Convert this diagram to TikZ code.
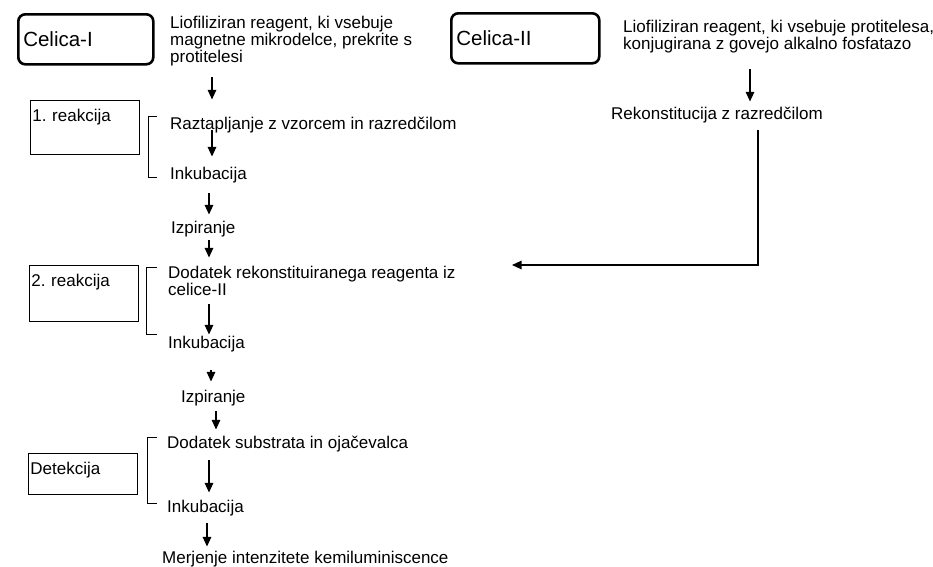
\documentclass[tikz,border=0pt]{standalone}
\usepackage{fontspec}
\setmainfont{Liberation Sans}
\usetikzlibrary{arrows.meta}

\begin{document}
\begin{tikzpicture}[
        x=1pt, y=-1pt,
        every node/.style={font=\fontsize{17}{17}\selectfont},
        cell/.style={draw, line width=2.6pt, rounded corners=7pt, anchor=north west, inner xsep=5pt, minimum height=50pt, align=left, font=\fontsize{20.5}{22}\selectfont},
        stage/.style={draw, line width=0.8pt, anchor=north west, inner xsep=2pt, inner ysep=9pt, text width=105pt, text height=12pt, align=left},
        txt/.style={anchor=base west, inner sep=0pt, align=left},
        arr/.style={-{Triangle[length=9.5pt,width=8.5pt]}, line width=1.1pt},
        brk/.style={line width=0.9pt}
      ]
      \useasboundingbox (0,0) rectangle (933,566);

      % Celica-I (multi-line texts sit on their last baseline)
      \node[cell, text width=125pt] (cel1) at (17,13) {Celica-I};
      \node[txt] (lio1) at (170,62) {Liofiliziran reagent, ki vsebuje\\magnetne mikrodelce, prekrite s\\protitelesi};

      % 1. reakcija
      \node[stage, text depth=24pt] (st1) at (30,100) {1.\ reakcija};
      \node[txt] (razt) at (170,129) {Raztapljanje z vzorcem in razred\v{c}ilom};
      \node[txt] (ink1) at (170,179) {Inkubacija};
      \node[txt] (izp1) at (171,233) {Izpiranje};
      \draw[brk] (157,116) -- (148,116) -- (148,177) -- (157,177);

      % 2. reakcija
      \node[stage, text depth=26pt] (st2) at (29,265) {2.\ reakcija};
      \node[txt] (dod1) at (168,295) {Dodatek rekonstituiranega reagenta iz\\celice-II};
      \node[txt] (ink2) at (168,348) {Inkubacija};
      \node[txt] (izp2) at (181,402) {Izpiranje};
      \draw[brk] (157,267) -- (146,267) -- (146,334) -- (157,334);

      % Detekcija
      \node[stage, text depth=11pt] (st3) at (28,453) {Detekcija};
      \node[txt] (dod2) at (167,448) {Dodatek substrata in oja\v{c}evalca};
      \node[txt] (ink3) at (167,512) {Inkubacija};
      \node[txt] (mer) at (162,563) {Merjenje intenzitete kemiluminiscence};
      \draw[brk] (157,437) -- (147,437) -- (147,503) -- (157,503);

      % Celica-II
      \node[cell, text width=138pt] (cel2) at (450,12) {Celica-II};
      \node[txt] (lio2) at (623,49) {Liofiliziran reagent, ki vsebuje protitelesa,\\konjugirana z govejo alkalno fosfatazo};
      \node[txt] (rek) at (611,119) {Rekonstitucija z razred\v{c}ilom};
      \coordinate (feed) at (512,265);

      % Arrows
      \draw[arr, shorten <=11.5pt, shorten >=17pt] ([xshift=42pt]lio1.south west) -- ([xshift=42pt]lio1.south west |- razt.north);
      \draw[arr, shorten <=-2.5pt, shorten >=10pt] ([xshift=42pt]razt.south west) -- ([xshift=42pt]razt.south west |- ink1.north);
      \draw[arr, shorten <=10.5pt, shorten >=6pt] ([xshift=39pt]ink1.south west) -- ([xshift=39pt]ink1.south west |- izp1.north);
      \draw[arr, shorten <=3.5pt, shorten >=8pt] ([xshift=38pt]izp1.south west) -- ([xshift=38pt]izp1.south west |- dod1.north);
      \draw[arr, shorten <=9pt, shorten >=1pt] ([xshift=41pt]dod1.south west) -- ([xshift=41pt]dod1.south west |- ink2.north);
      \draw[arr, shorten <=18.5pt, shorten >=8pt] ([xshift=43pt]ink2.south west) -- ([xshift=43pt]ink2.south west |- izp2.north);
      \draw[arr, shorten <=5.5pt, shorten >=6pt] ([xshift=35pt]izp2.south west) -- ([xshift=35pt]izp2.south west |- dod2.north);
      \draw[arr, shorten <=8.5pt, shorten >=7pt] ([xshift=42pt]dod2.south west) -- ([xshift=42pt]dod2.south west |- ink3.north);
      \draw[arr, shorten <=7.5pt, shorten >=4pt] ([xshift=40pt]ink3.south west) -- ([xshift=40pt]ink3.south west |- mer.north);
      \draw[arr, shorten <=16.5pt, shorten >=5pt] ([xshift=127pt]lio2.south west) -- ([xshift=127pt]lio2.south west |- rek.north);
      \draw[arr, shorten <=7.5pt] ([xshift=147pt]rek.south west) |- (feed);

        \end{tikzpicture}
\end{document}
